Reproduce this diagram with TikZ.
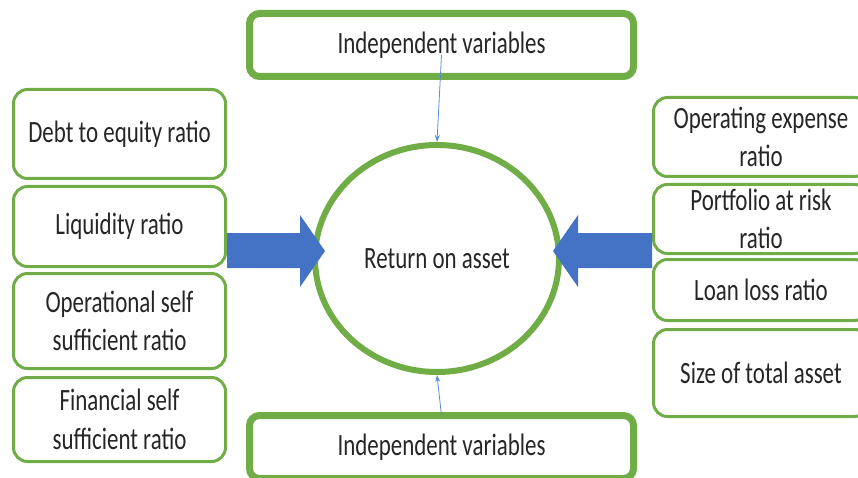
\documentclass[tikz,border=0pt]{standalone}
\usepackage{fontspec}
\setmainfont{Carlito}[FakeStretch=0.74]
\usetikzlibrary{shapes.geometric,arrows.meta}
\definecolor{boxgreen}{HTML}{70AD47}
\definecolor{arrowblue}{HTML}{4472C4}
\definecolor{linkblue}{HTML}{5B8BD6}

\begin{document}
\begin{tikzpicture}[x=1pt,y=1pt,
        every node/.style={text=black!85, font=\fontsize{31}{38.5}\selectfont, align=center, inner sep=0pt},
        ratiobox/.style={draw=boxgreen, line width=3pt, rounded corners=14pt, fill=white, minimum width=212pt},
        varbox/.style={draw=boxgreen, line width=7pt, rounded corners=10pt, fill=white, minimum width=384pt, minimum height=63pt},
        link/.style={draw=linkblue, line width=0.8pt, -{Stealth[length=7pt,width=5pt]}}]
        \useasboundingbox (0,0) rectangle (858,477);
        \clip (0,0) rectangle (858,477);

        % left hand ratios
        \node[ratiobox, minimum height=89pt] (debt) at (119.5,343) {Debt to equity ratio};
        \node[ratiobox, minimum height=80pt] (liq) at (119.5,250.5) {Liquidity ratio};
        \node[ratiobox, minimum height=95pt] (oss) at (119.5,156) {Operational self\\sufficient ratio};
        \node[ratiobox, minimum height=84pt] (fss) at (119.5,57.5) {Financial self\\sufficient ratio};

        % right hand ratios
        \node[ratiobox, minimum width=215pt, minimum height=79pt] (opex) at (761,340) {Operating expense\\ratio};
        \node[ratiobox, minimum width=215pt, minimum height=69pt] (par) at (761,258) {Portfolio at risk\\ratio};
        \node[ratiobox, minimum width=215pt, minimum height=61pt] (llr) at (761,187) {Loan loss ratio};
        \node[ratiobox, minimum width=215pt, minimum height=87pt] (size) at (761,104) {Size of total asset};

        \node[varbox] (indtop) at (441.5,432) {Independent variables};
        \node[varbox] (indbot) at (441.5,30) {Independent variables};

        \node[draw=boxgreen, line width=6pt, ellipse, minimum width=244pt, minimum height=227pt] (roa) at (437,218.5) {Return on asset};

        % block arrows
        \fill[arrowblue] (227,244) -- (300,244) -- (300,262) -- (325,226) -- (300,190) -- (300,209) -- (227,209) -- cycle;
        \fill[arrowblue] (652,244) -- (578,244) -- (578,262) -- (553,226) -- (578,190) -- (578,209) -- (652,209) -- cycle;

        \draw[link] ([yshift=-10pt]indtop.center) -- (roa.north);
        \draw[link] ([yshift=-3.5pt]indbot.north) -- (roa.south);
    \end{tikzpicture}
\end{document}
